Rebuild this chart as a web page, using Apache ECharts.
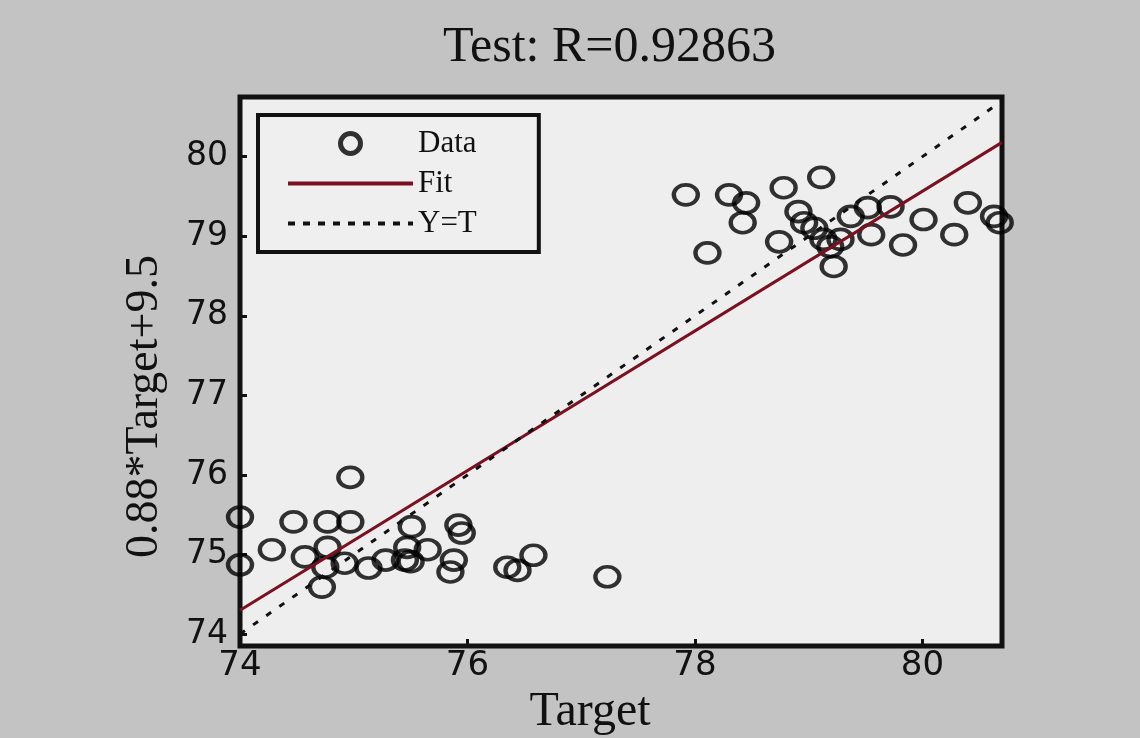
<!DOCTYPE html>
<html>
<head>
<meta charset="utf-8">
<script src="https://cdn.jsdelivr.net/npm/echarts@6/dist/echarts.min.js"></script>
<style>html,body{margin:0;padding:0;background:#c3c3c3;}#c{width:1140px;height:738px;}</style>
</head>
<body>
<div id="c"></div>
<script>
// ---- data ----
var titleText = 'Test: R=0.92863';
var xName = 'Target';
var yName = '0.88*Target+9.5';
var xTicks = [74, 76, 78, 80];
var yTicks = [74, 75, 76, 77, 78, 79, 80];
var dataX = [
  77.92, 78.11, 78.30, 78.45, 78.42, 78.78, 79.11, 78.91, 78.74, 78.96, 79.22, 79.13, 79.28,
  79.52, 79.72, 80.01, 79.83, 79.55, 79.37, 80.28, 80.40, 80.63, 80.68, 79.19, 79.05,
  74.97, 74.00, 74.47, 74.77, 74.97, 74.28, 74.00, 74.57, 74.77, 74.75, 74.72, 74.92, 75.13,
  75.28, 75.45, 75.51, 75.47, 75.92, 75.95, 75.50, 75.85, 75.88, 75.65, 76.35, 76.58, 76.44, 77.23
];
var dataY = [
  79.52, 78.79, 79.52, 79.42, 79.17, 79.61, 79.74, 79.31, 78.93, 79.17, 78.62, 78.96, 78.96,
  79.36, 79.37, 79.21, 78.89, 79.02, 79.25, 79.02, 79.42, 79.25, 79.17, 78.87, 79.10,
  75.97, 75.47, 75.41, 75.41, 75.41, 75.06, 74.87, 74.97, 75.09, 74.84, 74.59, 74.89, 74.83,
  74.93, 74.93, 75.35, 75.09, 75.37, 75.27, 74.91, 74.78, 74.93, 75.06, 74.84, 74.99, 74.80, 74.72
];
var fitX = [74, 80.7];
var fitY = [74.30, 80.18];
var idX = [74, 80.7];
var idY = [74, 80.7];

var scatterData = dataX.map(function (x, i) { return [x, dataY[i]]; });
var fitData = fitX.map(function (x, i) { return [x, fitY[i]]; });
var idData = idX.map(function (x, i) { return [x, idY[i]]; });

var serif = '"Liberation Serif", "DejaVu Serif", serif';
var sans = '"DejaVu Sans", "Liberation Sans", sans-serif';

var chart = echarts.init(document.getElementById('c'));
chart.setOption({
  backgroundColor: '#c3c3c3',
  animation: false,
  title: {
    text: titleText,
    left: 438,
    top: 18,
    textStyle: { fontFamily: serif, fontSize: 50, fontWeight: 'normal', color: '#111' }
  },
  legend: {
    orient: 'vertical',
    left: 258,
    top: 115,
    padding: [13, 62, 13, 28],
    itemWidth: 125,
    itemHeight: 20,
    itemGap: 9,
    backgroundColor: '#efefef',
    borderColor: '#111',
    borderWidth: 4,
    textStyle: { fontFamily: serif, fontSize: 31, color: '#111' },
    data: [
      { name: 'Data', icon: 'circle', itemStyle: { color: 'transparent', borderColor: '#000', borderWidth: 5 } },
      { name: 'Fit', itemStyle: { color: 'transparent', borderWidth: 0, opacity: 0 }, lineStyle: { color: '#7a1020', width: 4 } },
      { name: 'Y=T', itemStyle: { color: 'transparent', borderWidth: 0, opacity: 0 }, lineStyle: { color: '#111', width: 4, type: [7, 8] } }
    ]
  },
  grid: {
    left: 240, right: 138, top: 97, bottom: 92,
    outerBoundsMode: 'none',
    containLabel: false,
    show: true,
    backgroundColor: '#eeeeee',
    borderColor: '#111',
    borderWidth: 5
  },
  xAxis: {
    type: 'value',
    min: 74, max: 80.7, interval: 2,
    name: xName,
    nameLocation: 'middle',
    nameGap: 42,
    nameMoveOverlap: false,
    nameTextStyle: { fontFamily: serif, fontSize: 48, color: '#111', padding: [0, 62, 0, 0] },
    axisLine: { show: false },
    axisTick: { show: true, inside: true, length: 7, lineStyle: { color: '#111', width: 3 } },
    splitLine: { show: false },
    axisLabel: {
      margin: 3, fontFamily: sans, fontSize: 34, color: '#111',
      showMaxLabel: false,
      formatter: function (v) { return xTicks.indexOf(v) >= 0 ? String(v) : ''; }
    }
  },
  yAxis: {
    type: 'value',
    min: 73.85, max: 80.75, splitNumber: 6,
    name: yName,
    nameLocation: 'middle',
    nameGap: 72,
    nameMoveOverlap: false,
    nameTextStyle: { fontFamily: serif, fontSize: 46, color: '#111', padding: [0, 70, 0, 0] },
    axisLine: { show: false },
    axisTick: { show: true, inside: true, length: 7, lineStyle: { color: '#111', width: 3 } },
    splitLine: { show: false },
    axisLabel: {
      margin: 12, fontFamily: sans, fontSize: 33, color: '#111',
      showMinLabel: false, showMaxLabel: false,
      formatter: function (v) { return yTicks.indexOf(v) >= 0 ? String(v) : ''; }
    }
  },
  series: [
    {
      name: 'Data', type: 'scatter', data: scatterData,
      symbol: 'circle', symbolSize: [24, 20],
      itemStyle: { color: 'transparent', borderColor: '#000', borderWidth: 4 },
      z: 3
    },
    {
      name: 'Fit', type: 'line', data: fitData, showSymbol: false, symbol: 'none',
      itemStyle: { color: '#7a1020' },
      lineStyle: { color: '#7a1020', width: 3 }, z: 4
    },
    {
      name: 'Y=T', type: 'line', data: idData, showSymbol: false, symbol: 'none',
      itemStyle: { color: '#111' },
      lineStyle: { color: '#111', width: 3, type: [6, 10] }, z: 4
    }
  ]
});
</script>
</body>
</html>
